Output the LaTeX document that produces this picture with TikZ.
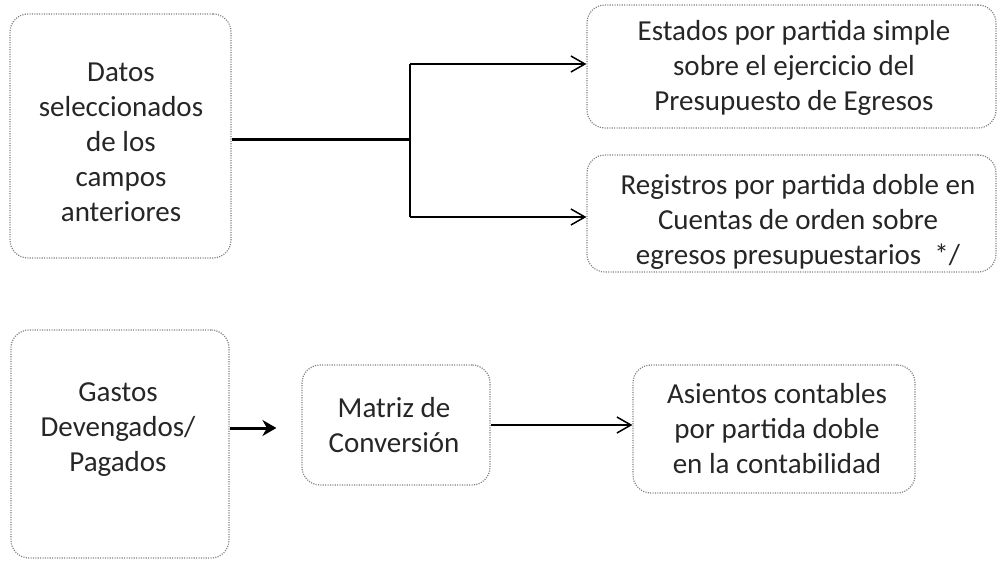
\documentclass[tikz,border=0pt]{standalone}
\usepackage{fontspec}
\setmainfont{Carlito}
\usetikzlibrary{arrows.meta}
\begin{document}
\begin{tikzpicture}[x=1pt,y=-1pt,
  boxst/.style={draw=black!50, line width=1.2pt, dash pattern=on 1.1pt off 1.3pt,
    rounded corners=18pt, minimum width=#1, inner sep=0pt},
  txt/.style={align=center, inner sep=0pt, text=black!85,
    font=\fontsize{29}{35}\selectfont},
  thin/.style={draw=black, line width=1.5pt},
  barb/.style={thin, -{Straight Barb[length=14pt,width=16pt,line width=1.5pt]}},
  boldarr/.style={draw=black, line width=3pt, -{Stealth[length=14pt,width=16pt]}}
]
\useasboundingbox (0,0) rectangle (998,565);

% boxes
\node[boxst=221pt, minimum height=244pt] (b1) at (120.5,136) {};
\node[boxst=409pt, minimum height=123pt] (b2) at (791.5,66.5) {};
\node[boxst=409pt, minimum height=117pt] (b3) at (791.5,213.5) {};
\node[boxst=218pt, minimum height=228pt] (b4) at (120,444) {};
\node[boxst=188pt, minimum height=120pt] (b5) at (396,425) {};
\node[boxst=282pt, minimum height=128pt] (b6) at (774,429) {};

% texts
\node[txt] (t1) at (121,142) {Datos\\seleccionados\\de los\\campos\\anteriores};
\node[txt] (t2) at (794,67.5) {Estados por partida simple\\sobre el ejercicio del\\Presupuesto de Egresos};
\node[txt] (t3) at (798,222) {Registros por partida doble en\\Cuentas de orden sobre\\egresos presupuestarios\ \ */};
\node[txt] (t4) at (118,430) {Gastos\\Devengados/\\Pagados};
\node[txt] (t5) at (394,425) {Matriz de\\Conversión};
\node[txt] (t6) at (777,429) {Asientos contables\\por partida doble\\en la contabilidad};

% connectors
\coordinate (j) at (410,139);
\coordinate (jt) at (410,64);
\coordinate (jb) at (410,217);
\draw[draw=black, line width=3pt] (b1.east |- j) -- (j);
\draw[thin] (jt) -- (jb);
\draw[barb] (jt) -- (jt -| b2.west);
\draw[barb] (jb) -- (jb -| b3.west);
\draw[boldarr] ([yshift=-3pt]b4.east |- b5.west) -- ([xshift=-25pt,yshift=-3pt]b5.west);
\draw[barb] (b5.east) -- (b5.east -| b6.west);
\end{tikzpicture}
\end{document}
